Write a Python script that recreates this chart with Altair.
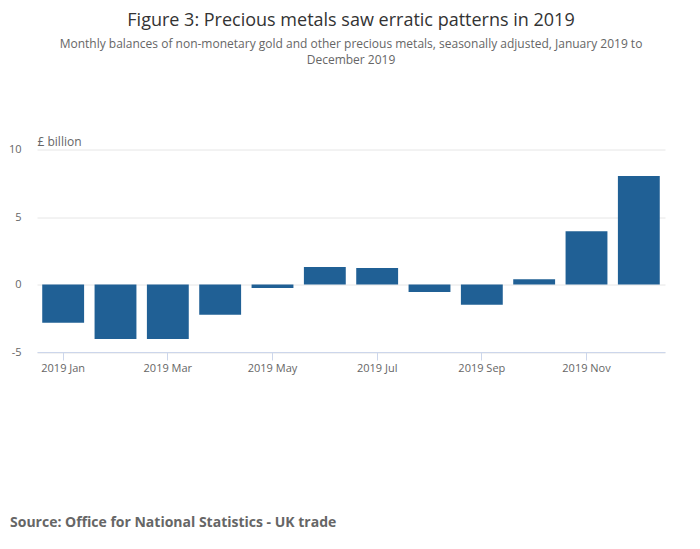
import altair as alt
import pandas as pd

months = ["2019 Jan", "2019 Feb", "2019 Mar", "2019 Apr", "2019 May", "2019 Jun",
          "2019 Jul", "2019 Aug", "2019 Sep", "2019 Oct", "2019 Nov", "2019 Dec"]
values = [-2.83, -4.04, -4.04, -2.24, -0.25, 1.3, 1.22, -0.55, -1.5, 0.39, 3.95, 8.03]
shown_months = ["2019 Jan", "2019 Mar", "2019 May", "2019 Jul", "2019 Sep", "2019 Nov"]
y_ticks = [-5, 0, 5, 10]

title_text = "Figure 3: Precious metals saw erratic patterns in 2019"
subtitle_lines = ["Monthly balances of non-monetary gold and other precious metals, seasonally adjusted, January 2019 to",
                  "December 2019"]
source_text = "Source: Office for National Statistics - UK trade"

df = pd.DataFrame({"month": months, "value": values})
src = pd.DataFrame({"t": [source_text]})

FONT = "Open Sans"

bars = alt.Chart(df).mark_bar(color="#206095").encode(
    x=alt.X("month:O", sort=months,
            scale=alt.Scale(paddingInner=0.2, paddingOuter=0.1),
            axis=alt.Axis(values=shown_months, labelAngle=0, title=None,
                          domainColor="#ccd6eb", tickColor="#ccd6eb", tickSize=8,
                          labelColor="#666666", labelFontSize=11, labelFont=FONT,
                          labelPadding=2, grid=False)),
    y=alt.Y("value:Q", scale=alt.Scale(domain=[-5, 10], nice=False),
            axis=alt.Axis(values=y_ticks, title="£ billion", titleAngle=0,
                          titleX=0, titleY=-1, titleAlign="left", titleBaseline="bottom",
                          titleFont=FONT, titleFontSize=12, titleFontWeight="normal",
                          titleColor="#666666",
                          labelExpr="datum.value < 0 ? '-' + abs(datum.value) : '' + datum.value",
                          domain=False, ticks=False, labelPadding=16,
                          labelColor="#666666", labelFontSize=11, labelFont=FONT,
                          gridColor="#e6e6e6")),
)

source = alt.Chart(src).mark_text(
    align="left", baseline="alphabetic", font=FONT, fontSize=14,
    fontWeight="bold", color="#666666"
).encode(
    text="t:N",
    x=alt.value(-27),
    y=alt.value(377),
)

chart = alt.layer(bars, source).properties(
    width=628, height=202.5,
    padding={"left": 29, "top": 141.5, "right": 20, "bottom": 185},
    autosize=alt.AutoSizeParams(type="none"),
    background="white",
    title=alt.TitleParams(
        text=title_text, subtitle=subtitle_lines, anchor="middle",
        font=FONT, fontSize=18, fontWeight="normal", color="#333333",
        subtitleFont=FONT, subtitleFontSize=12, subtitleColor="#666666",
        subtitleLineHeight=16, subtitlePadding=9, offset=70,
    ),
).configure_view(strokeWidth=0)

chart.save("out.html", embed_options={"renderer": "svg", "actions": False})
